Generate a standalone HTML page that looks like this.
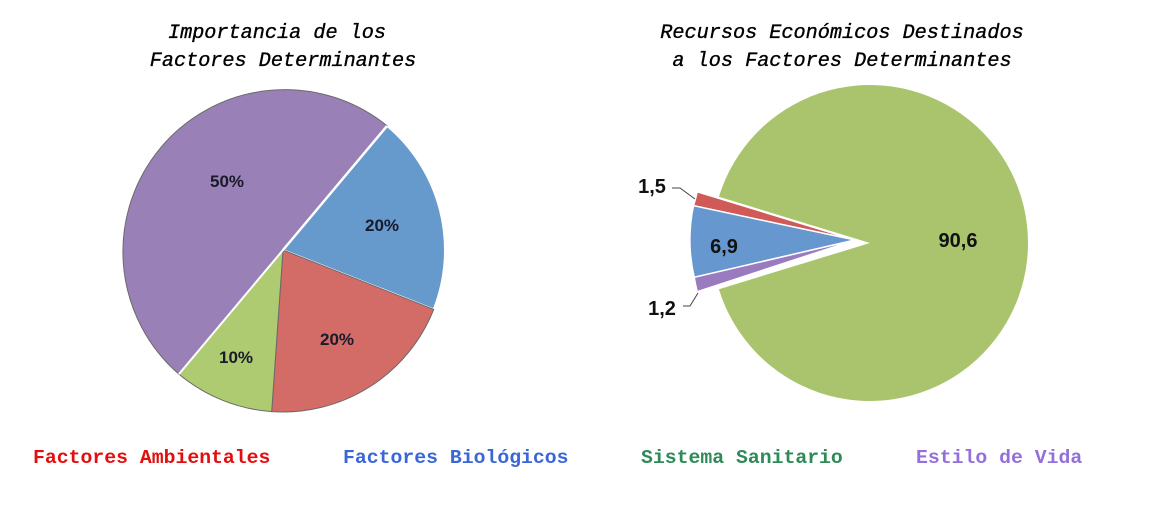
<!DOCTYPE html>
<html><head><meta charset="utf-8"><style>
html,body{margin:0;padding:0;background:#fff;}
svg{display:block;}
</style></head><body>
<svg width="1159" height="508" viewBox="0 0 1159 508" xmlns="http://www.w3.org/2000/svg">
<g font-family="Liberation Mono, monospace" font-style="italic" font-size="20.2" fill="#000" text-anchor="middle" stroke="#000" stroke-width="0.35">
<text x="277" y="38">Importancia de los</text>
<text x="283" y="66">Factores Determinantes</text>
<text x="842" y="38">Recursos Económicos Destinados</text>
<text x="842" y="66">a los Factores Determinantes</text>
</g>
<g stroke="#6a6a6a" stroke-width="1">
<path d="M283,250 L387.1,125.9 A162,162 0 0 1 433.7,309.4 Z" fill="#6699cc" stroke="#fff" stroke-width="2"/>
<path d="M283,250 L433.7,309.4 A162,162 0 0 1 271.7,411.6 Z" fill="#d36b66"/>
<path d="M283,250 L271.7,411.6 A162,162 0 0 1 178.9,374.1 Z" fill="#aecb72"/>
<path d="M283,250 L178.9,374.1 A162,162 0 0 1 387.1,125.9 Z" fill="#9981b8"/>
</g>
<line x1="283" y1="250" x2="178.9" y2="374.1" stroke="#fff" stroke-width="2"/>
<line x1="283" y1="250" x2="387.1" y2="125.9" stroke="#fff" stroke-width="2.5"/>
<g font-family="Liberation Sans, sans-serif" font-weight="bold" font-size="17" fill="#1a1a2a" text-anchor="middle">
<text x="227" y="187">50%</text>
<text x="382" y="231">20%</text>
<text x="337" y="345">20%</text>
<text x="236" y="363">10%</text>
</g>
<path d="M870,243 L718.9,196.8 A158,158 0 1 1 718.9,289.2 Z" fill="#a9c46d"/>
<path d="M855,240 L697.2,191.8 A165,165 0 0 1 693.5,205.7 Z" fill="#d05a58" stroke="#fff" stroke-width="1.5"/>
<path d="M855,240 L693.5,205.7 A165,165 0 0 0 694.2,277.3 Z" fill="#6797cf" stroke="#fff" stroke-width="1.5"/>
<path d="M855,240 L694.2,277.3 A165,165 0 0 0 697.2,291.7 Z" fill="#9a7bc0" stroke="#fff" stroke-width="1.5"/>
<polyline points="672,188 680,188 695,199" fill="none" stroke="#444" stroke-width="1"/>
<polyline points="683,306 690,306 698,293" fill="none" stroke="#444" stroke-width="1"/>
<g font-family="Liberation Sans, sans-serif" font-weight="bold" font-size="20" fill="#111" text-anchor="middle">
<text x="652" y="193">1,5</text>
<text x="724" y="253">6,9</text>
<text x="662" y="315">1,2</text>
<text x="958" y="247">90,6</text>
</g>
<g font-family="Liberation Mono, monospace" font-weight="bold" font-size="19.8">
<text x="33" y="463" fill="#e01010">Factores Ambientales</text>
<text x="343" y="463" fill="#3a66d8">Factores Biológicos</text>
<text x="641" y="463" fill="#2e8b57">Sistema Sanitario</text>
<text x="916" y="463" fill="#9370db">Estilo de Vida</text>
</g>
</svg>
</body></html>
